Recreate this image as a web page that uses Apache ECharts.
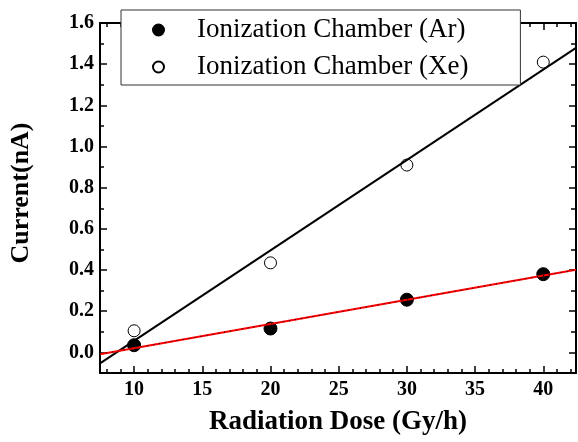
<!DOCTYPE html>
<html>
<head>
<meta charset="utf-8">
<script src="https://cdn.jsdelivr.net/npm/echarts@6/dist/echarts.min.js"></script>
<style>
  html, body { margin: 0; padding: 0; background: #fff; }
  #chart { width: 578px; height: 442px; }
</style>
</head>
<body>
<div id="chart"></div>
<script>
// ---- data ----
var doses = [10, 20, 30, 40];
var currentAr = [0.035, 0.116, 0.256, 0.38];
var currentXe = [0.105, 0.435, 0.91, 1.41];
var seriesNames = ['Ionization Chamber (Ar)', 'Ionization Chamber (Xe)'];
var xMajorTicks = [10, 15, 20, 25, 30, 35, 40];
var xMinorTicks = [8, 9, 11, 12, 13, 14, 16, 17, 18, 19, 21, 22, 23, 24, 26, 27, 28, 29, 31, 32, 33, 34, 36, 37, 38, 39, 41, 42];
var yMajorTicks = [0, 0.2, 0.4, 0.6, 0.8, 1.0, 1.2, 1.4, 1.6];
var yMinorTicks = [-0.1, 0.1, 0.3, 0.5, 0.7, 0.9, 1.1, 1.3, 1.5];
var xRange = [7.5, 42.4];
var yRange = [-0.1, 1.6];

// least-squares fit line over the x range
function fitLine(xs, ys) {
  var n = xs.length, mx = 0, my = 0;
  for (var i = 0; i < n; i++) { mx += xs[i]; my += ys[i]; }
  mx /= n; my /= n;
  var sxy = 0, sxx = 0;
  for (var j = 0; j < n; j++) { sxy += (xs[j] - mx) * (ys[j] - my); sxx += (xs[j] - mx) * (xs[j] - mx); }
  var b = sxy / sxx, a = my - b * mx;
  return xRange.map(function (x) { return [x, a + b * x]; });
}
function pairs(xs, ys) { return xs.map(function (x, i) { return [x, ys[i]]; }); }

var FONT = '"Liberation Serif", "Times New Roman", serif';
var BLACK = '#000';

function xAxisDef(pos, ticks, len, withLabels, withLine) {
  return {
    type: 'value', position: pos, min: xRange[0], max: xRange[1],
    axisLine: { show: withLine, onZero: false, lineStyle: { color: BLACK, width: 2 } },
    axisTick: { show: true, inside: true, length: len, customValues: ticks, lineStyle: { color: BLACK, width: 1.5 } },
    axisLabel: withLabels ? {
      show: true, customValues: ticks, margin: 7,
      fontFamily: FONT, fontWeight: 'bold', fontSize: 20, color: BLACK
    } : { show: false },
    splitLine: { show: false }
  };
}
function yAxisDef(pos, ticks, len, withLabels, withLine) {
  return {
    type: 'value', position: pos, min: yRange[0], max: yRange[1],
    axisLine: { show: withLine, onZero: false, lineStyle: { color: BLACK, width: 2 } },
    axisTick: { show: true, inside: true, length: len, customValues: ticks, lineStyle: { color: BLACK, width: 1.5 } },
    axisLabel: withLabels ? {
      show: true, customValues: ticks, margin: 6,
      fontFamily: FONT, fontWeight: 'bold', fontSize: 20, color: BLACK,
      formatter: function (v) { return v.toFixed(1); }
    } : { show: false },
    splitLine: { show: false }
  };
}

var xa0 = xAxisDef('bottom', xMajorTicks, 7, true, true);
xa0.name = 'Radiation Dose (Gy/h)';
xa0.nameLocation = 'middle';
xa0.nameGap = 36;
xa0.nameTextStyle = { fontFamily: FONT, fontWeight: 'bold', fontSize: 27, color: BLACK };

var ya0 = yAxisDef('left', yMajorTicks, 7, true, true);
ya0.name = 'Current(nA)';
ya0.nameLocation = 'middle';
ya0.nameGap = 66;
ya0.nameTextStyle = { fontFamily: FONT, fontWeight: 'bold', fontSize: 26, color: BLACK, padding: [0, 0, 0, 10] };

var chart = echarts.init(document.getElementById('chart'), null, { renderer: 'canvas' });
chart.setOption({
  animation: false,
  backgroundColor: '#fff',
  grid: { left: 100, top: 23, right: 2, bottom: 69, containLabel: false },
  legend: {
    left: 121, top: 10, orient: 'vertical',
    data: seriesNames,
    backgroundColor: '#fff', borderColor: '#333', borderWidth: 1,
    padding: [5, 52, 3, 31], itemGap: 7,
    itemWidth: 11, itemHeight: 11,
    textStyle: { fontFamily: FONT, fontSize: 27, color: BLACK, lineHeight: 30, padding: [0, 0, 0, 28] },
    z: 10
  },
  xAxis: [
    xa0,
    xAxisDef('bottom', xMinorTicks, 4, false, false),
    xAxisDef('top', xMajorTicks, 7, false, true),
    xAxisDef('top', xMinorTicks, 4, false, false)
  ],
  yAxis: [
    ya0,
    yAxisDef('left', yMinorTicks, 4, false, false),
    yAxisDef('right', yMajorTicks, 7, false, true),
    yAxisDef('right', yMinorTicks, 5, false, false)
  ],
  series: [
    {
      name: seriesNames[0], type: 'scatter', data: pairs(doses, currentAr),
      symbol: 'circle', symbolSize: 13,
      itemStyle: { color: BLACK, borderColor: BLACK, borderWidth: 1, opacity: 1 }, z: 3
    },
    {
      name: seriesNames[1], type: 'scatter', data: pairs(doses, currentXe),
      symbol: 'circle', symbolSize: 12,
      itemStyle: { color: '#fff', borderColor: BLACK, borderWidth: 1, opacity: 1 }, z: 3
    },
    {
      name: 'fitXe', type: 'line', data: fitLine(doses, currentXe),
      showSymbol: false, symbol: 'none', clip: true,
      lineStyle: { color: BLACK, width: 2 }, z: 4
    },
    {
      name: 'fitAr', type: 'line', data: fitLine(doses, currentAr),
      showSymbol: false, symbol: 'none', clip: true,
      lineStyle: { color: '#ff0000', width: 2 }, z: 4
    },
    {
      name: 'fitArDots', type: 'line', data: fitLine(doses, currentAr),
      showSymbol: false, symbol: 'none', clip: true,
      lineStyle: { color: BLACK, width: 1, type: [1, 5] }, z: 5
    }
  ]
});
</script>
</body>
</html>
